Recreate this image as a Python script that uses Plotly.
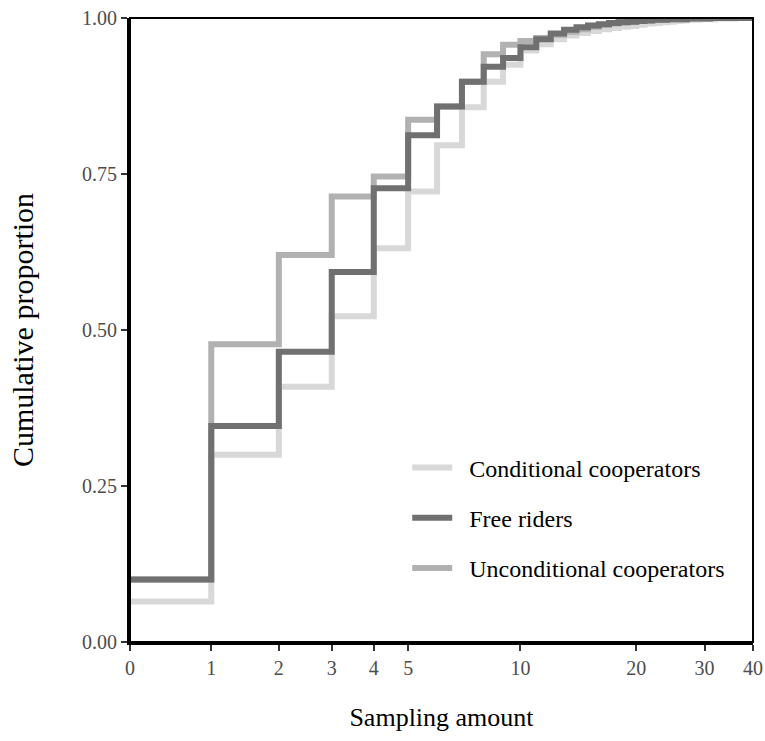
import numpy as np
import plotly.graph_objects as go

# Sampling amounts 0..40 (integer steps of the ECDF)
sampling = list(range(0, 41))

conditional = [0.065, 0.300, 0.409, 0.522, 0.631, 0.722, 0.796, 0.857, 0.898, 0.925,
               0.948, 0.958, 0.966, 0.972, 0.976, 0.979, 0.982, 0.984, 0.986, 0.987,
               0.989, 0.991, 0.992, 0.993, 0.994, 0.995, 0.996, 0.997, 0.997, 0.998,
               0.998, 0.998, 0.999, 0.999, 0.999, 0.999, 1.000, 1.000, 1.000, 1.000, 1.000]
free_riders = [0.100, 0.346, 0.465, 0.593, 0.727, 0.812, 0.858, 0.898, 0.922, 0.936,
               0.953, 0.966, 0.975, 0.981, 0.985, 0.988, 0.990, 0.992, 0.993, 0.994,
               0.995, 0.996, 0.997, 0.997, 0.998, 0.998, 0.998, 0.999, 0.999, 0.999,
               0.999, 1.000, 1.000, 1.000, 1.000, 1.000, 1.000, 1.000, 1.000, 1.000, 1.000]
unconditional = [0.100, 0.477, 0.620, 0.714, 0.746, 0.837, 0.858, 0.898, 0.942, 0.957,
                 0.963, 0.968, 0.973, 0.978, 0.982, 0.986, 0.989, 0.991, 0.993, 0.994,
                 0.995, 0.996, 0.997, 0.997, 0.998, 0.998, 0.998, 0.999, 0.999, 0.999,
                 0.999, 1.000, 1.000, 1.000, 1.000, 1.000, 1.000, 1.000, 1.000, 1.000, 1.000]

series_names = ["Conditional cooperators", "Free riders", "Unconditional cooperators"]
series_colors = ["#d8d8d8", "#707070", "#b1b1b1"]

tick_vals = [0, 1, 2, 3, 4, 5, 10, 20, 30, 40]
tick_text = [str(t) for t in tick_vals]
y_ticks = [0, 0.25, 0.5, 0.75, 1.0]
y_ticktext = ["0.00", "0.25", "0.50", "0.75", "1.00"]


def pseudo_log(x, sigma=1.0):
    return np.arcsinh(np.asarray(x, dtype=float) / (2 * sigma))


xs = pseudo_log(sampling)
data = {"Conditional cooperators": conditional,
        "Free riders": free_riders,
        "Unconditional cooperators": unconditional}

fig = go.Figure()
draw_order = ["Conditional cooperators", "Unconditional cooperators", "Free riders"]
pad = "\u00a0\u00a0"
for name in draw_order:
    i = series_names.index(name)
    fig.add_trace(go.Scatter(
        x=xs, y=data[name], mode="lines", name=pad + name,
        line=dict(color=series_colors[i], width=6, shape="hv"),
        legendgroup=name, legendrank=i + 1, hoverinfo="skip",
    ))

font_family = "Liberation Serif"
fig.update_layout(
    width=765, height=741,
    margin=dict(l=130, r=12, t=18, b=99),
    plot_bgcolor="white", paper_bgcolor="white",
    font=dict(family=font_family, color="black"),
    showlegend=True,
    legend=dict(x=0.445, y=0.315, xanchor="left", yanchor="top",
                font=dict(size=24, family=font_family, color="black"),
                tracegroupgap=16, traceorder="grouped", itemwidth=40,
                bgcolor="rgba(0,0,0,0)"),
    xaxis=dict(
        range=[0, float(pseudo_log(40))], automargin=False, ticklabeloverflow="allow",
        tickmode="array", tickvals=list(pseudo_log(tick_vals)), ticktext=tick_text,
        ticks="outside", ticklen=6, tickwidth=2, tickcolor="#333333",
        tickfont=dict(size=20, color="#4d4d4d", family=font_family),
        showgrid=False, zeroline=False,
        showline=True, linecolor="black", linewidth=3,
        title=dict(text="Sampling amount", font=dict(size=26, family=font_family), standoff=30),
    ),
    yaxis=dict(
        range=[0, 1], automargin=False, ticklabeloverflow="allow",
        tickmode="array", tickvals=y_ticks, ticktext=y_ticktext,
        ticks="outside", ticklen=6, tickwidth=2, tickcolor="#333333",
        tickfont=dict(size=20, color="#4d4d4d", family=font_family),
        showgrid=False, zeroline=False,
        showline=True, linecolor="black", linewidth=3,
        title=dict(text="Cumulative proportion", font=dict(size=30, family=font_family), standoff=40),
    ),
    shapes=[dict(type="rect", xref="paper", yref="paper", x0=0, y0=0, x1=1, y1=1,
                 line=dict(color="black", width=2), layer="above")],
)

fig.write_html("out.html",
               config={"displayModeBar": False},
               post_script="document.body.style.margin='0';document.body.style.overflow='hidden';")
